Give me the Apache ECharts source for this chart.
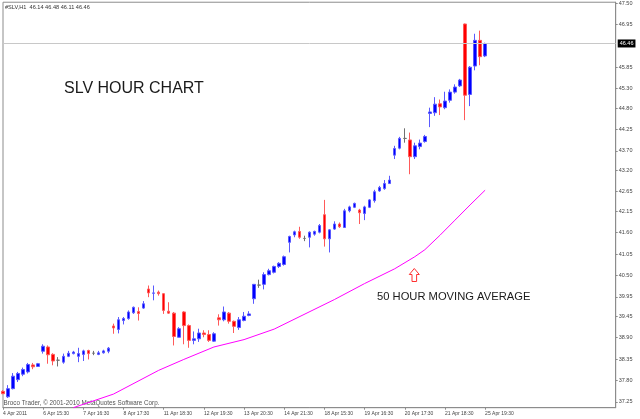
<!DOCTYPE html>
<html>
<head>
<meta charset="utf-8">
<title>SLV HOUR CHART</title>
<script src="https://cdn.jsdelivr.net/npm/echarts@6.0.0/dist/echarts.min.js"></script>
<style>
  html, body { margin: 0; padding: 0; background: #fff; }
  #main { width: 640px; height: 419px; }
</style>
</head>
<body>
<div id="main"></div>
<script>
// time labels, one every 8 bars
var xTickLabels = ['4 Apr 2011', '6 Apr 15:30', '7 Apr 16:30', '8 Apr 17:30', '11 Apr 18:30',
    '12 Apr 19:30', '13 Apr 20:30', '14 Apr 21:30', '18 Apr 15:30', '19 Apr 16:30',
    '20 Apr 17:30', '21 Apr 18:30', '25 Apr 19:30'];
var barSlots = 123; // bars + empty space on the right

var opens = [37.52, 37.38, 37.59, 37.82, 37.96, 38.02, 38.20, 38.16, 38.55, 38.66, 38.47, 38.32, 38.27, 38.42, 38.49, 38.42, 38.47, 38.57, 38.50, 38.47, 38.51, 38.55,
    39.20, 39.11, 39.34, 39.39, 39.54, 39.57, 39.66, 40.15, 40.04, 40.07, 40.03, 39.58, 39.53, 38.91, 39.56, 39.21, 38.83, 38.87, 39.02, 38.98, 38.81,
    39.41, 39.36, 39.53, 39.32, 39.16, 39.34, 39.47, 39.90, 40.25, 40.27, 40.52, 40.58, 40.73, 40.78, 41.35, 41.54, 41.63, 41.45, 41.48, 41.56, 41.61,
    42.06, 41.44, 41.69, 41.82, 41.73, 42.16, 42.25, 42.18, 42.09, 42.25, 42.42, 42.67, 42.73, 42.86, 43.59, 43.77, 44.02, 43.98, 43.55, 43.81, 43.94,
    44.66, 44.68, 44.91, 44.81, 45.00, 45.21, 45.37, 46.96, 45.15, 45.88, 46.54, 46.14];
var closes = [37.46, 37.59, 37.91, 37.98, 38.08, 38.21, 38.15, 38.23, 38.68, 38.46, 38.30, 38.32, 38.42, 38.50, 38.53, 38.49, 38.56, 38.49, 38.50, 38.51, 38.56, 38.63,
    39.15, 39.36, 39.39, 39.56, 39.68, 39.52, 39.77, 40.05, 40.05, 40.03, 39.60, 39.53, 38.93, 39.13, 39.21, 38.83, 38.87, 39.02, 38.98, 38.83, 39.00,
    39.36, 39.56, 39.32, 39.19, 39.36, 39.45, 39.51, 40.27, 40.25, 40.52, 40.62, 40.73, 40.81, 40.98, 41.50, 41.62, 41.48, 41.45, 41.61, 41.63, 41.78,
    41.44, 41.67, 41.82, 41.75, 42.16, 42.26, 42.35, 42.11, 42.26, 42.44, 42.65, 42.76, 42.86, 42.95, 43.76, 44.02, 44.02, 43.55, 43.83, 43.90, 44.07,
    44.70, 44.90, 44.83, 44.98, 45.21, 45.34, 45.52, 45.13, 45.85, 46.54, 46.12, 46.46];
var lows = [37.45, 37.35, 37.57, 37.76, 37.91, 37.98, 38.09, 38.15, 38.49, 38.23, 38.19, 38.16, 38.23, 38.40, 38.47, 38.27, 38.30, 38.34, 38.45, 38.45, 38.49, 38.50,
    39.00, 39.01, 39.24, 39.36, 39.51, 39.34, 39.64, 39.94, 39.86, 39.98, 39.51, 39.51, 38.70, 38.91, 38.73, 38.64, 38.73, 38.79, 38.91, 38.79, 38.79,
    39.21, 39.32, 39.26, 39.02, 39.10, 39.32, 39.45, 39.77, 40.18, 40.14, 40.50, 40.55, 40.69, 40.75, 41.09, 41.48, 41.44, 41.38, 41.22, 41.52, 41.58,
    41.24, 41.09, 41.67, 41.72, 41.72, 42.12, 42.23, 41.82, 41.92, 42.23, 42.37, 42.65, 42.70, 42.85, 43.49, 43.74, 43.91, 43.10, 43.49, 43.74, 43.91,
    44.31, 44.60, 44.62, 44.77, 44.94, 45.17, 45.34, 44.49, 44.85, 45.77, 45.90, 46.11];
var highs = [37.55, 37.68, 37.99, 38.02, 38.13, 38.25, 38.25, 38.25, 38.73, 38.70, 38.50, 38.40, 38.49, 38.56, 38.56, 38.64, 38.59, 38.59, 38.56, 38.56, 38.59, 38.66,
    39.26, 39.43, 39.43, 39.60, 39.70, 39.68, 39.84, 40.24, 40.24, 40.11, 40.04, 39.81, 39.56, 39.17, 39.58, 39.24, 39.06, 39.13, 39.09, 39.09, 39.04,
    39.50, 39.70, 39.56, 39.34, 39.43, 39.56, 39.58, 40.28, 40.39, 40.58, 40.67, 40.75, 40.84, 41.01, 41.52, 41.65, 41.75, 41.52, 41.63, 41.65, 41.82,
    42.44, 41.69, 41.89, 41.86, 42.21, 42.29, 42.37, 42.21, 42.29, 42.46, 42.70, 42.80, 42.95, 43.06, 43.83, 44.06, 44.28, 44.17, 43.91, 43.99, 44.11,
    44.81, 45.08, 45.02, 45.22, 45.28, 45.41, 45.55, 46.97, 45.88, 46.71, 46.79, 46.48];

// 50 hour moving average at these bars
var maBars = [14, 22, 31, 36, 42, 48, 54, 66, 72, 78, 82, 84, 87, 90, 93, 96];
var maValues = [37.10, 37.45, 38.06, 38.34, 38.66, 38.85, 39.12, 39.88, 40.29, 40.67, 40.98, 41.16, 41.53, 41.92, 42.31, 42.69];

var yTickLabels = [37.25, 37.80, 38.35, 38.90, 39.45, 39.95, 40.50, 41.05, 41.60, 42.15, 42.65,
    43.20, 43.70, 44.25, 44.80, 45.30, 45.85, 46.95, 47.50];
var lastPrice = 46.46;

var categories = [];
for (var i = 0; i < barSlots; i++) {
    categories.push(i % 8 === 0 && xTickLabels[i / 8] ? xTickLabels[i / 8] : '');
}
var ohlc = opens.map(function (o, i) { return [o, closes[i], lows[i], highs[i]]; });
var ma = maBars.map(function (b, i) { return [b, maValues[i]]; });

var font = '"Liberation Sans", Arial, sans-serif';
var frame = '#8c8c8c';
var hasLabel = function (i, v) { return v !== ''; };

var myChart = echarts.init(document.getElementById('main'));

var option = {
    animation: false,
    backgroundColor: '#fff',
    grid: { left: 2, right: 24.3, top: 1, bottom: 11.3, show: true, borderColor: frame, borderWidth: 1 },
    xAxis: {
        type: 'category',
        data: categories,
        boundaryGap: false,
        axisLine: { lineStyle: { color: frame } },
        axisTick: { length: 2, interval: hasLabel, lineStyle: { color: frame } },
        axisLabel: { interval: hasLabel, align: 'left', margin: 3, fontSize: 5, color: '#444', fontFamily: font },
        splitLine: { show: false }
    },
    yAxis: {
        type: 'value',
        position: 'right',
        min: 37.10,
        max: 47.52,
        axisLine: { show: true, lineStyle: { color: frame } },
        axisTick: { show: true, length: 2, customValues: yTickLabels, lineStyle: { color: frame } },
        axisLabel: {
            customValues: yTickLabels,
            formatter: function (v) { return v.toFixed(2); },
            margin: 3, fontSize: 5.5, color: '#444', fontFamily: font
        },
        splitLine: { show: false }
    },
    graphic: [
        { type: 'text', x: 5, y: 7, style: { text: '#SLV,H1  46.14 46.48 46.11 46.46', fill: '#333', fontSize: 5.6, fontFamily: font, verticalAlign: 'middle' } },
        { type: 'text', x: 64, y: 88.5, style: { text: 'SLV HOUR CHART', fill: '#1a1a1a', fontSize: 16, fontFamily: font, verticalAlign: 'middle' } },
        { type: 'text', x: 377, y: 296.5, style: { text: '50 HOUR MOVING AVERAGE', fill: '#1a1a1a', fontSize: 11.2, fontFamily: font, verticalAlign: 'middle' } },
        { type: 'text', x: 3.5, y: 403.5, style: { text: 'Broco Trader, \u00a9 2001-2010 MetaQuotes Software Corp.', fill: '#555', fontSize: 6.3, fontFamily: font, verticalAlign: 'middle' } },
        {
            type: 'polygon',
            shape: { points: [[414.3, 268.5], [419.3, 274.5], [416.6, 274.5], [416.6, 281.5], [412, 281.5], [412, 274.5], [409.3, 274.5]] },
            style: { fill: '#fff', stroke: '#ff3030', lineWidth: 1 }
        }
    ],
    series: [
        {
            name: 'SLV',
            type: 'candlestick',
            data: ohlc,
            barWidth: 3,
            silent: true,
            itemStyle: {
                color: '#0000ff',
                color0: '#ff0000',
                borderColor: '#5a5aff',
                borderColor0: '#ff5a5a',
                borderColorDoji: '#707070',
                borderWidth: 1
            },
            markLine: {
                symbol: 'none',
                silent: true,
                data: [{ yAxis: lastPrice }],
                lineStyle: { color: '#c8c8c8', type: 'solid', width: 1 },
                label: {
                    position: 'end',
                    formatter: lastPrice.toFixed(2),
                    color: '#fff',
                    backgroundColor: '#000',
                    fontSize: 5.5,
                    fontFamily: font,
                    padding: [1, 2],
                    distance: 2
                }
            }
        },
        {
            name: '50 HOUR MOVING AVERAGE',
            type: 'line',
            data: ma,
            smooth: false,
            showSymbol: false,
            silent: true,
            lineStyle: { color: '#ff00ff', width: 1 }
        }
    ]
};

myChart.setOption(option);
</script>
</body>
</html>
